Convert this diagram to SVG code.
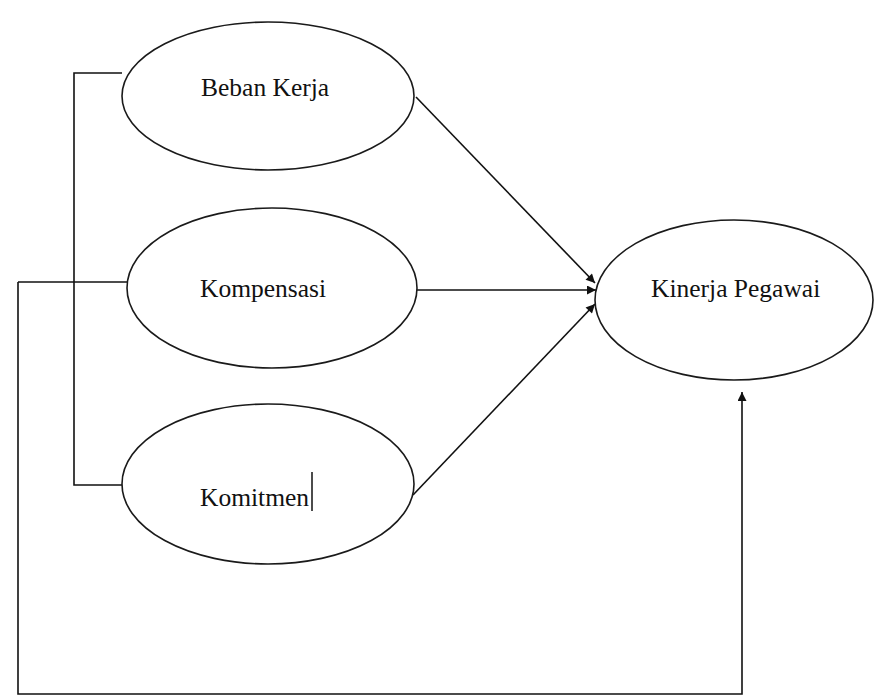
<svg xmlns="http://www.w3.org/2000/svg" width="876" height="699" viewBox="0 0 876 699">
<defs>
<style>
.node ellipse{fill:#fff;stroke:#1a1a1a;stroke-width:1.6}
.node text{font-family:"Liberation Serif","Times New Roman",serif;font-size:25.5px;fill:#111}
.conn line,.conn polyline{stroke:#111;stroke-width:1.6;fill:none}
.arrow{marker-end:url(#ah)}
</style>
<marker id="ah" viewBox="0 0 10 10" refX="10" refY="5" markerWidth="11" markerHeight="9" markerUnits="userSpaceOnUse" orient="auto">
<path d="M0,0 L10,5 L0,10 z" fill="#111"/>
</marker>
</defs>
<rect width="876" height="699" fill="#fff"/>
<g id="connectors" class="conn">
<polyline points="122,73 74,73 74,485 122,485"/>
<line x1="18" y1="282" x2="127" y2="282"/>
<polyline class="arrow" points="18,282 18,694 742,694 742,392"/>
<line class="arrow" x1="416" y1="97" x2="595" y2="283"/>
<line class="arrow" x1="417" y1="290" x2="596" y2="290"/>
<line class="arrow" x1="413" y1="495" x2="595" y2="304"/>
</g>
<g id="beban-kerja" class="node">
<ellipse cx="268" cy="96" rx="146" ry="74"/>
<text x="201" y="96">Beban Kerja</text>
</g>
<g id="kompensasi" class="node">
<ellipse cx="272" cy="288" rx="145" ry="80"/>
<text x="200" y="297">Kompensasi</text>
</g>
<g id="komitmen" class="node">
<ellipse cx="268" cy="484" rx="146" ry="80"/>
<text x="200" y="506">Komitmen</text>
<line x1="312" y1="472" x2="312" y2="511" stroke="#111" stroke-width="1.5"/>
</g>
<g id="kinerja-pegawai" class="node">
<ellipse cx="734" cy="300" rx="139" ry="80"/>
<text x="651" y="297">Kinerja Pegawai</text>
</g>
</svg>
